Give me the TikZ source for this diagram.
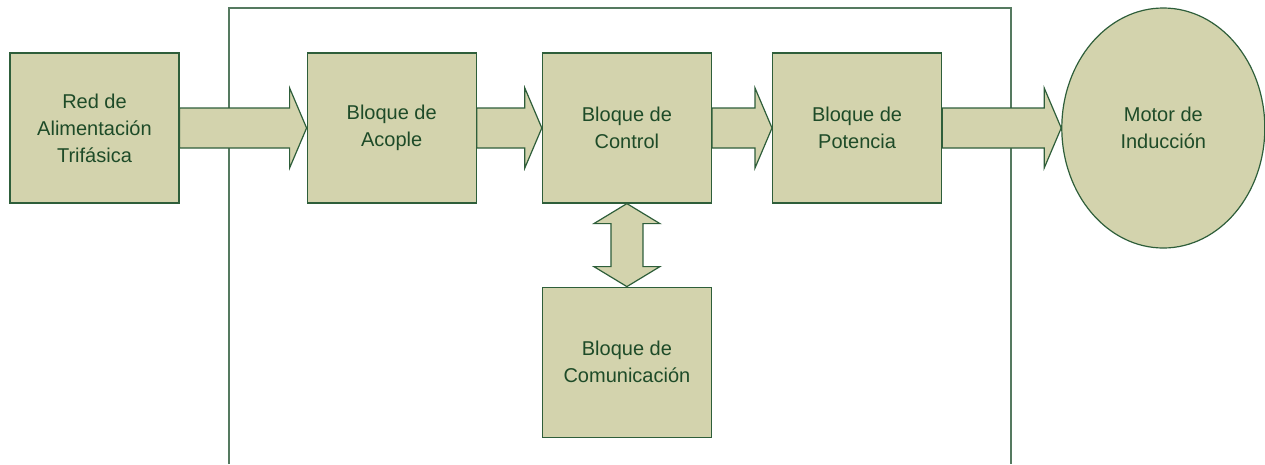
\documentclass[tikz,border=0pt]{standalone}
\usepackage{fontspec}
\setmainfont{Liberation Sans}
\usepackage{tikz}
\usetikzlibrary{positioning,shapes.geometric,calc}
\definecolor{blockfill}{HTML}{D3D3AD}
\definecolor{blockline}{HTML}{2E5E3A}
\definecolor{blocktext}{HTML}{1E4B28}
\definecolor{framegreen}{HTML}{557A60}

\begin{document}
\begin{tikzpicture}[
  x=1pt,y=-1pt,
  box/.style={draw=blockline,fill=blockfill,line width=1.2pt,
    minimum width=169pt,minimum height=150pt,inner sep=0pt,
    align=center,text=blocktext,font=\fontsize{20}{27}\selectfont},
  motor/.style={box,ellipse,minimum width=203pt,minimum height=240pt},
  frame/.style={draw=framegreen,line width=1.4pt},
  fat/.style={draw=blockline,fill=blockfill,line width=1.2pt,line join=miter,
    to path={let \p1=(\tikztostart), \p2=(\tikztotarget) in
      (\x1,\y1+20pt) -- (\x2-17pt,\y1+20pt) -- (\x2-17pt,\y1+40pt) -- (\x2,\y1)
      -- (\x2-17pt,\y1-40pt) -- (\x2-17pt,\y1-20pt) -- (\x1,\y1-20pt) -- cycle}},
  twoway/.style={draw=blockline,fill=blockfill,line width=1.2pt,line join=miter,
    to path={let \p1=(\tikztostart), \p2=(\tikztotarget) in
      (\x1,\y1) -- (\x1+33pt,\y1-20pt) -- (\x1+16pt,\y1-20pt) -- (\x1+16pt,\y2+20pt)
      -- (\x1+33pt,\y2+20pt) -- (\x1,\y2) -- (\x1-33pt,\y2+20pt) -- (\x1-16pt,\y2+20pt)
      -- (\x1-16pt,\y1-20pt) -- (\x1-33pt,\y1-20pt) -- cycle}}
]
\useasboundingbox (0,0) rectangle (1265,464);
\draw[frame] (229,464) |- (1011,8) -- (1011,464);

\node[box] (red) at (94.5,128) {Red de\\Alimentación\\Trifásica};
\node[box,right=127pt of red] (acople) {Bloque de\\Acople};
\node[box,right=65pt of acople] (control) {Bloque de\\Control};
\node[box,right=60pt of control] (potencia) {Bloque de\\Potencia};
\node[box,below=83pt of control] (comm) {Bloque de\\Comunicación};
\node[motor,right=119pt of potencia] (motor) {Motor de\\Inducción};

\path[fat] (red.east) to (acople.west);
\path[fat] (acople.east) to (control.west);
\path[fat] (control.east) to (potencia.west);
\path[fat] (potencia.east) to (motor.west);
\path[twoway] (control.south) to (comm.north);
\end{tikzpicture}
\end{document}
